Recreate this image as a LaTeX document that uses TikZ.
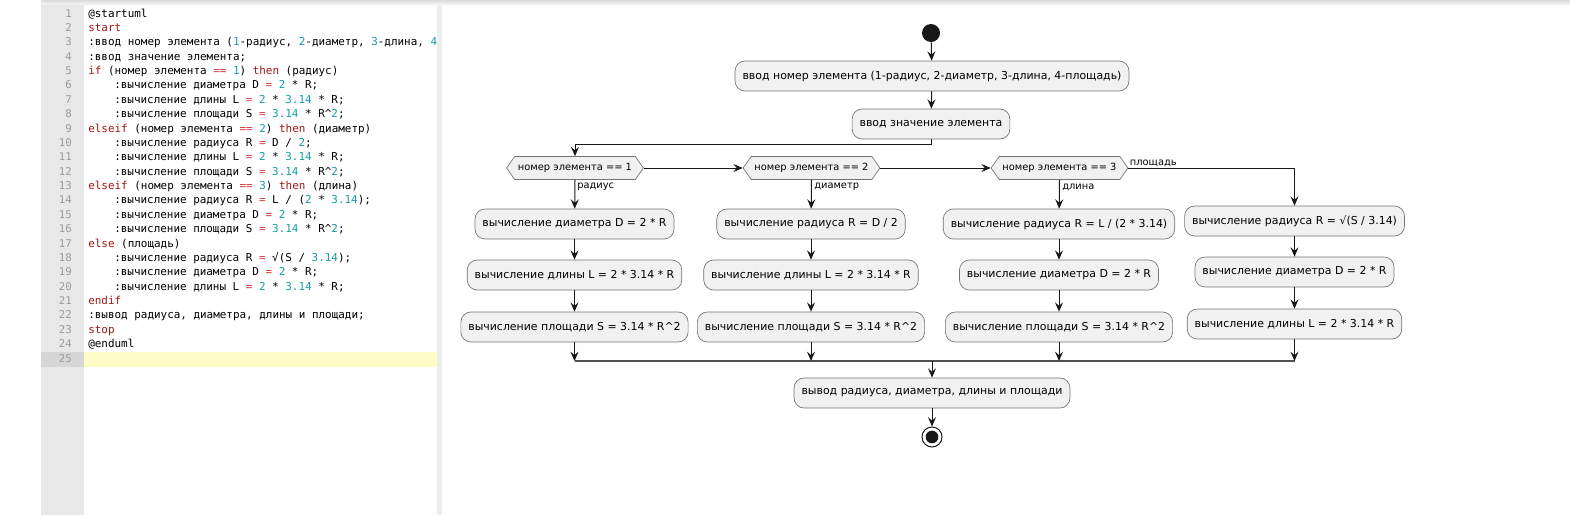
\documentclass[tikz,border=0pt]{standalone}
\usepackage{fontspec}
\setmainfont{DejaVu Sans}
\setmonofont{DejaVu Sans Mono}
\usepackage{xcolor}
\usetikzlibrary{arrows.meta, shapes.symbols}

\definecolor{boxfill}{HTML}{F1F1F1}
\definecolor{linecol}{HTML}{181818}
\definecolor{gutter}{HTML}{E8E8E8}
\definecolor{numgray}{HTML}{9A9A9A}
\definecolor{kwred}{RGB}{163,21,21}
\definecolor{opred}{RGB}{205,55,55}
\definecolor{numteal}{RGB}{20,158,160}

\newcommand{\kw}[1]{\textcolor{kwred}{#1}}
\newcommand{\nm}[1]{\textcolor{numteal}{#1}}
\newcommand{\op}[1]{\textcolor{opred}{#1}}

\tikzset{
  act/.style = {rectangle, draw = black!55, line width = 0.5pt, fill = boxfill,
    rounded corners = 7.5pt, minimum height = 22.5pt, inner xsep = 5.6pt,
    font = \fontsize{8.2}{10}\selectfont},
  cond/.style = {signal, signal to = east and west, signal pointer angle = 110,
    draw = black!55, line width = 0.5pt, fill = boxfill, minimum height = 17.25pt,
    inner xsep = 2.5pt, inner ysep = 0pt, font = \fontsize{7.4}{9}\selectfont},
  lbl/.style = {inner sep = 0pt, font = \fontsize{7.4}{9}\selectfont},
  arr/.style = {draw = linecol, line width = 0.75pt,
    -{Stealth[length = 7pt, width = 6pt, inset = 2.6pt]}},
  lnum/.style = {anchor = east, inner sep = 0pt, text height = 6pt, text depth = 1.5pt,
    text = numgray, font = \ttfamily\fontsize{8}{10}\selectfont},
  codeln/.style = {anchor = west, inner sep = 0pt, text height = 6pt, text depth = 1.5pt,
    font = \ttfamily\fontsize{8.2}{10}\selectfont},
}

\begin{document}
\begin{tikzpicture}[x = 0.75pt, y = -0.75pt]
        \useasboundingbox (0,0) rectangle (1570,515);
        % editor
        \fill[top color = black!14, bottom color = white] (41,0) rectangle (1570,6);
        \fill[gutter] (41,5) rectangle (84,515);
        \fill[black!7] (437,5) rectangle (442,515);
        \fill[black!16] (41,352) rectangle (84,366.5);
        \fill[yellow!22] (84,352) rectangle (437,366.5);
        \foreach \i in {1,...,25}
          \node[lnum] (n\i) at (72, {14 + (\i - 1) * 14.375}) {\i};
        \coordinate (ct) at (88,0);
        \coordinate (ci) at (114,0);
        \begin{scope}
          \clip (84,0) rectangle (437,515);
          \node[codeln] (l1) at (ct |- n1) {@startuml};
          \node[codeln] (l2) at (ct |- n2) {\kw{start}};
          \node[codeln] (l3) at (ct |- n3) {:ввод номер элемента (\nm{1}-радиус, \nm{2}-диаметр, \nm{3}-длина, \nm{4}-площадь);};
          \node[codeln] (l4) at (ct |- n4) {:ввод значение элемента;};
          \node[codeln] (l5) at (ct |- n5) {\kw{if} (номер элемента \op{==} \nm{1}) \kw{then} (радиус)};
          \node[codeln] (l6) at (ci |- n6) {:вычисление диаметра D \op{=} \nm{2} * R;};
          \node[codeln] (l7) at (ci |- n7) {:вычисление длины L \op{=} \nm{2} * \nm{3.14} * R;};
          \node[codeln] (l8) at (ci |- n8) {:вычисление площади S \op{=} \nm{3.14} * R\textasciicircum\nm{2};};
          \node[codeln] (l9) at (ct |- n9) {\kw{elseif} (номер элемента \op{==} \nm{2}) \kw{then} (диаметр)};
          \node[codeln] (l10) at (ci |- n10) {:вычисление радиуса R \op{=} D / \nm{2};};
          \node[codeln] (l11) at (ci |- n11) {:вычисление длины L \op{=} \nm{2} * \nm{3.14} * R;};
          \node[codeln] (l12) at (ci |- n12) {:вычисление площади S \op{=} \nm{3.14} * R\textasciicircum\nm{2};};
          \node[codeln] (l13) at (ct |- n13) {\kw{elseif} (номер элемента \op{==} \nm{3}) \kw{then} (длина)};
          \node[codeln] (l14) at (ci |- n14) {:вычисление радиуса R \op{=} L / (\nm{2} * \nm{3.14});};
          \node[codeln] (l15) at (ci |- n15) {:вычисление диаметра D \op{=} \nm{2} * R;};
          \node[codeln] (l16) at (ci |- n16) {:вычисление площади S \op{=} \nm{3.14} * R\textasciicircum\nm{2};};
          \node[codeln] (l17) at (ct |- n17) {\kw{else} (площадь)};
          \node[codeln] (l18) at (ci |- n18) {:вычисление радиуса R \op{=} √(S / \nm{3.14});};
          \node[codeln] (l19) at (ci |- n19) {:вычисление диаметра D \op{=} \nm{2} * R;};
          \node[codeln] (l20) at (ci |- n20) {:вычисление длины L \op{=} \nm{2} * \nm{3.14} * R;};
          \node[codeln] (l21) at (ct |- n21) {\kw{endif}};
          \node[codeln] (l22) at (ct |- n22) {:вывод радиуса, диаметра, длины и площади;};
          \node[codeln] (l23) at (ct |- n23) {\kw{stop}};
          \node[codeln] (l24) at (ct |- n24) {@enduml};
        \end{scope}
        % diagram
        \node[circle, fill = linecol, minimum size = 13.5pt, inner sep = 0pt] (st) at (931,33) {};
        \node[act] (in1) at (932,76) {ввод номер элемента (1-радиус, 2-диаметр, 3-длина, 4-площадь)};
        \node[act] (in2) at (931,124) {ввод значение элемента};
        \node[cond] (d1) at (575,168) {номер элемента == 1};
        \node[cond] (d2) at (811.5,168) {номер элемента == 2};
        \node[cond] (d3) at (1059.5,168) {номер элемента == 3};
        \node[act] (a1) at (574.5,224) {вычисление диаметра D = 2 * R};
        \node[act] (a2) at (574.5,275) {вычисление длины L = 2 * 3.14 * R};
        \node[act] (a3) at (574.5,327) {вычисление площади S = 3.14 * R\textasciicircum2};
        \node[act] (b1) at (811,224) {вычисление радиуса R = D / 2};
        \node[act] (b2) at (811,275) {вычисление длины L = 2 * 3.14 * R};
        \node[act] (b3) at (811,327) {вычисление площади S = 3.14 * R\textasciicircum2};
        \node[act] (c1) at (1059,224) {вычисление радиуса R = L / (2 * 3.14)};
        \node[act] (c2) at (1059,275) {вычисление диаметра D = 2 * R};
        \node[act] (c3) at (1059,327) {вычисление площади S = 3.14 * R\textasciicircum2};
        \node[act] (e1) at (1294.5,221) {вычисление радиуса R = √(S / 3.14)};
        \node[act] (e2) at (1294.5,272) {вычисление диаметра D = 2 * R};
        \node[act] (e3) at (1294.5,324) {вычисление длины L = 2 * 3.14 * R};
        \node[act] (out) at (932,393) {вывод радиуса, диаметра, длины и площади};
        \node[circle, draw = linecol, line width = 0.75pt, fill = white,
          minimum size = 15pt, inner sep = 0pt] (sp) at (932,437) {};
        \node[circle, fill = linecol, minimum size = 9.5pt, inner sep = 0pt] (spin) at (sp) {};
        \node[lbl, anchor = west] (r1) at (577,187) {радиус};
        \node[lbl, anchor = west] (r2) at (814,187) {диаметр};
        \node[lbl, anchor = west] (r3) at (1062,187) {длина};
        \node[lbl, anchor = south west] (r4) at ([xshift = 1pt, yshift = 1pt]d3.east) {площадь};
        \coordinate (mL) at (574.5,361);
        \coordinate (mR) at (1294.5,361);
        \coordinate (mC) at (932,361);
        \draw[arr] (st) -- (in1);
        \draw[arr] (in1) -- (in2);
        \draw[arr] (in2.south) -- ++(0,5) -| (d1.north);
        \draw[arr] (d1.east) -- (d2.west);
        \draw[arr] (d2.east) -- (d3.west);
        \draw[arr] (d3.east) -| (e1.north);
        \draw[arr] (d1.south) -- (a1);
        \draw[arr] (d2.south) -- (b1);
        \draw[arr] (d3.south) -- (c1);
        \draw[arr] (a1) -- (a2);
        \draw[arr] (a2) -- (a3);
        \draw[arr] (b1) -- (b2);
        \draw[arr] (b2) -- (b3);
        \draw[arr] (c1) -- (c2);
        \draw[arr] (c2) -- (c3);
        \draw[arr] (e1) -- (e2);
        \draw[arr] (e2) -- (e3);
        \draw[draw = linecol!75, line width = 0.9pt] (mL) -- (mR);
        \draw[arr] (a3.south) -- (a3.south |- mL);
        \draw[arr] (b3.south) -- (b3.south |- mL);
        \draw[arr] (c3.south) -- (c3.south |- mL);
        \draw[arr] (e3.south) -- (e3.south |- mL);
        \draw[arr] (mC) -- (out);
        \draw[arr] (out) -- (sp);
\end{tikzpicture}
\end{document}
